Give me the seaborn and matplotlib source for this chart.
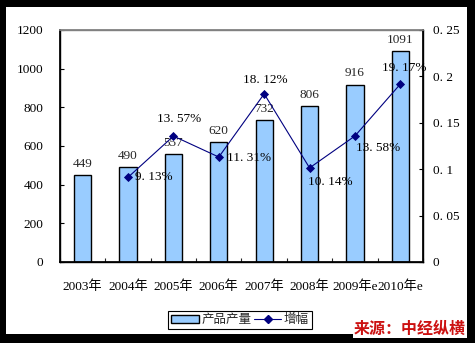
import matplotlib
matplotlib.use("Agg")
import matplotlib.pyplot as plt
import matplotlib.patches as mpatches
from matplotlib.lines import Line2D
import numpy as np
import pandas as pd
import seaborn as sns

# Data
years = ["2003年", "2004年", "2005年", "2006年", "2007年", "2008年", "2009年e", "2010年e"]
output = [449, 490, 557, 620, 732, 806, 916, 1091]
growth = [np.nan, 0.0913, 0.1357, 0.1131, 0.1812, 0.1014, 0.1358, 0.1917]
left_ticks = [0, 200, 400, 600, 800, 1000, 1200]
right_ticks = [0, 0.05, 0.1, 0.15, 0.2, 0.25]
right_tick_labels = ["0", "0. 05", "0. 1", "0. 15", "0. 2", "0. 25"]
bar_name = "产品产量"
line_name = "增幅"
source_text = "来源：中经纵横"

# label offsets for the growth annotations (pixels)
label_offsets = [None, (7, 0, "left"), (6, 17, "center"), (8, -1, "left"),
                 (1, 14, "center"), (21, -14, "center"), (23, -12, "center"),
                 (4, 16, "center")]

sns.set_theme(style="white")
fam = ["Liberation Serif", "Noto Sans CJK SC"]
plt.rcParams["font.family"] = fam
plt.rcParams["axes.unicode_minus"] = False

df = pd.DataFrame({"year": years, "output": output, "growth": growth})

W, H = 475, 343
fig = plt.figure(figsize=(W / 100, H / 100), dpi=100, facecolor="black")
# white chart area inside the black frame
fig.patches.append(mpatches.Rectangle((6 / W, 1 - 334 / H), (467 - 6) / W, (334 - 7) / H,
                                      transform=fig.transFigure, facecolor="white",
                                      edgecolor="none", zorder=-5))

ax = fig.add_axes([60 / W, 1 - 262 / H, (423 - 60) / W, (262 - 30) / H])
ax.set_facecolor("white")
sns.barplot(data=df, x="year", y="output", ax=ax, color="#99CCFF", edgecolor="black",
            linewidth=1, width=0.38, saturation=1)
ax.set_ylim(0, 1200)
ax.set_xlim(-0.5, len(years) - 0.5)
ax.set_yticks(left_ticks)
ax.set_xlabel("")
ax.set_ylabel("")
ax.bar_label(ax.containers[0], labels=[str(v) for v in output], padding=4,
             fontsize=9.5, family=fam)

ax.tick_params(axis="y", direction="in", length=3, width=0.8, pad=12, labelsize=9.5,
               colors="black", left=True)
ax.tick_params(axis="x", which="major", length=0, pad=13, labelsize=9.5, colors="black")
ax.set_xticks(np.arange(len(years) + 1) - 0.5, minor=True)
ax.tick_params(axis="x", which="minor", direction="in", length=3, width=0.8, bottom=True)

for side in ["left", "bottom", "right"]:
    ax.spines[side].set_color("black")
    ax.spines[side].set_linewidth(1)
ax.spines["top"].set_color("#808080")
ax.spines["top"].set_linewidth(1)

ax2 = ax.twinx()
sns.pointplot(data=df, x="year", y="growth", ax=ax2, color="#000080", markers="D",
              markersize=4.5, linewidth=0.8, errorbar=None)
ax2.set_ylim(0, 0.25)
ax2.set_xlim(-0.5, len(years) - 0.5)
ax2.set_yticks(right_ticks)
ax2.set_yticklabels(right_tick_labels)
ax2.set_ylabel("")
ax2.set_xlabel("")
ax2.tick_params(axis="y", direction="in", length=3, width=0.8, pad=7, labelsize=9.5,
                colors="black", right=True)
for side in ["left", "bottom", "right"]:
    ax2.spines[side].set_color("black")
ax2.spines["top"].set_color("#808080")

for i, g in enumerate(growth):
    if np.isnan(g):
        continue
    dx, dy, ha = label_offsets[i]
    txt = f"{g * 100:.2f}%".replace(".", ". ")
    ax2.annotate(txt, (i, g), xytext=(dx, dy), textcoords="offset pixels",
                 ha=ha, va="center", fontsize=9.5, family=fam, color="black")

handles = [mpatches.Patch(facecolor="#99CCFF", edgecolor="black", linewidth=1),
           Line2D([], [], color="#000080", marker="D", markersize=4.5, linewidth=0.8)]
leg = fig.legend(handles, [bar_name, line_name], loc="center",
                 bbox_to_anchor=(240 / W, 1 - 320 / H), ncol=2, frameon=True,
                 fancybox=False, edgecolor="black", framealpha=1,
                 prop={"family": fam, "size": 9}, handlelength=2.2, handleheight=0.6,
                 handletextpad=0.2, columnspacing=0.2, borderpad=0.25, borderaxespad=0)
leg.get_frame().set_linewidth(0.8)

fig.text(410 / W, 1 - 329 / H, source_text, ha="center", va="center", fontsize=11.5,
         fontweight="bold", color="#CC1111", family=["Noto Sans CJK SC"],
         bbox=dict(facecolor="white", edgecolor="none", pad=0.5))

fig.savefig("out.png", dpi=100, facecolor="black")
